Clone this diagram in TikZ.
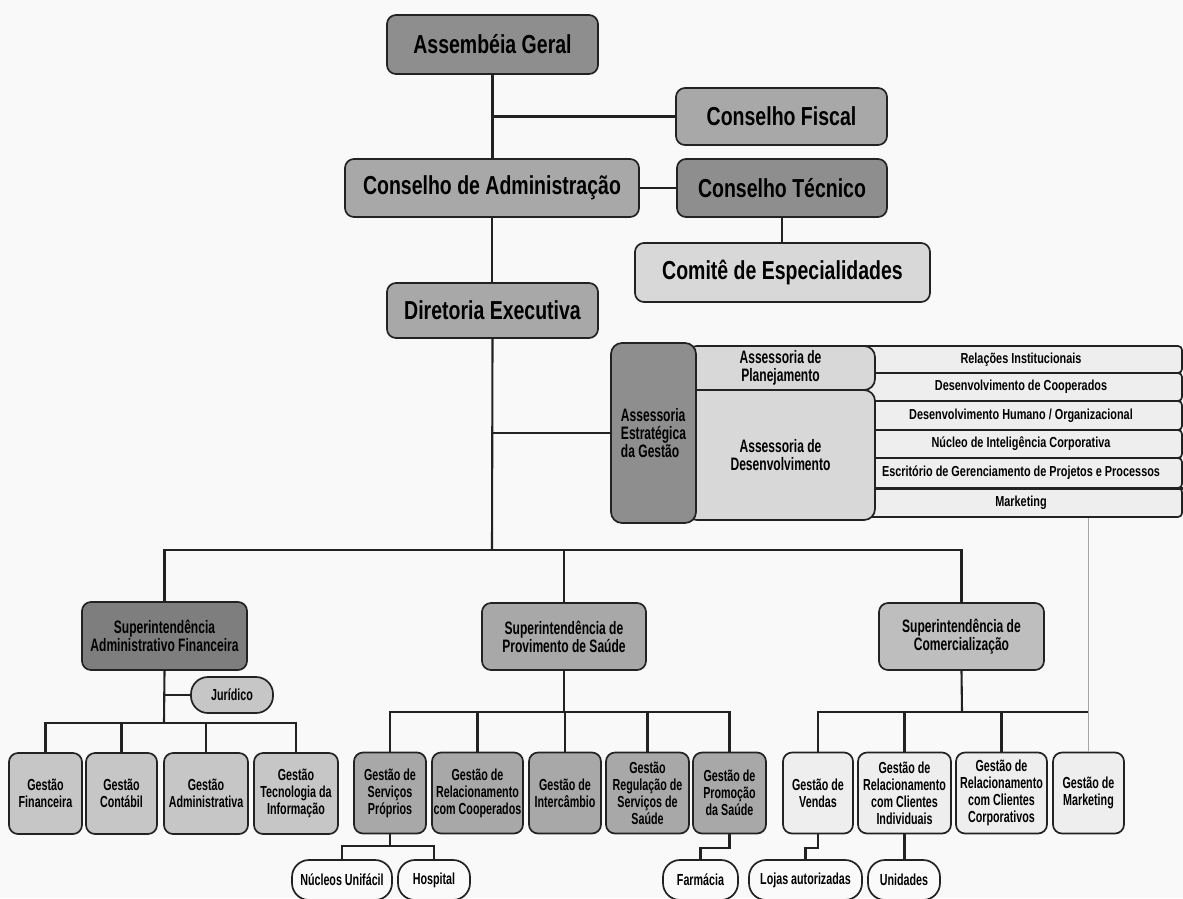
\documentclass[tikz,border=0pt]{standalone}
\usepackage{fontspec}
\setmainfont{Liberation Sans}[FakeStretch=0.75]
\newfontfamily\narrowface{Liberation Sans}[FakeStretch=0.67]
\usetikzlibrary{calc}

\definecolor{pagebg}{HTML}{F9F9F9}
\definecolor{gdark}{HTML}{8E8E8E}
\definecolor{gmid}{HTML}{A8A8A8}
\definecolor{glight}{HTML}{D8D8D8}
\definecolor{gdeep}{HTML}{7E7E7E}
\definecolor{gsoft}{HTML}{BEBEBE}
\definecolor{gleft}{HTML}{C6C6C6}
\definecolor{gpale}{HTML}{EEEEEE}
\definecolor{gwhite}{HTML}{FAFAFA}
\definecolor{edge}{HTML}{222222}

\newcommand\txtbig{\fontsize{26}{28}\selectfont\bfseries}
\newcommand\txtrow{\fontsize{14.5}{17}\selectfont\bfseries}
\newcommand\txtmid{\narrowface\fontsize{18}{18}\selectfont\bfseries}
\newcommand\txtsmall{\narrowface\fontsize{16}{17}\selectfont\bfseries}

\tikzset{
  box/.style={draw=edge, line width=1.7pt, rounded corners=9pt, inner sep=1pt,
              align=center, text=black},
  topbox/.style={box, font=\txtbig},
  midbox/.style={box, font=\txtmid},
  unitbox/.style={box, font=\txtsmall, minimum height=81pt},
  pill/.style={box, font=\txtsmall, rounded corners=17pt},
  rowbox/.style={box, font=\txtrow, rounded corners=4pt, minimum width=322pt},
  conn/.style={draw=edge, line width=2.1pt},
  softconn/.style={draw=gray!70, line width=1.6pt}
}

\begin{document}
\begin{tikzpicture}[x=1pt,y=-1pt]
\useasboundingbox (0,0) rectangle (1183,898);
\fill[pagebg] (0,0) rectangle (1183,898);

% governance boards
\node[topbox, fill=gdark, minimum width=211pt, minimum height=59pt] (ag) at (492.5,44.5) {Assembéia Geral};
\node[topbox, fill=gmid, minimum width=211pt, minimum height=57pt] (cf) at (781.5,116.5) {Conselho Fiscal};
\node[topbox, fill=gmid, minimum width=294pt, minimum height=58pt] (ca) at (492,188) {Conselho de Administração};
\node[topbox, fill=gdark, minimum width=210pt, minimum height=58pt] (ct) at (782,188) {Conselho Técnico};
\node[topbox, fill=glight, minimum width=295pt, minimum height=59pt] (ce) at (782.5,272.5) {Comitê de Especialidades};
\node[topbox, fill=gmid, minimum width=211pt, minimum height=55pt] (de) at (492.5,310.5) {Diretoria Executiva};

% advisory rows
\node[rowbox, fill=gpale, minimum height=27pt] (r1) at (1021,359.5) {Relações Institucionais};
\node[rowbox, fill=gpale, minimum height=28pt] (r2) at (1021,387) {Desenvolvimento de Cooperados};
\node[rowbox, fill=gpale, minimum height=29pt] (r3) at (1021,415.5) {Desenvolvimento Humano / Organizacional};
\node[rowbox, fill=gpale, minimum height=28pt] (r4) at (1021,444) {Núcleo de Inteligência Corporativa};
\node[rowbox, fill=gpale, minimum height=30pt] (r5) at (1021,473) {Escritório de Gerenciamento de Projetos e Processos};
\node[rowbox, fill=gpale, minimum height=29pt] (r6) at (1021,502.5) {Marketing};
\draw[edge, line width=3pt] (r5.south west) -- (r5.south east);

% advisory blocks
\node[midbox, fill=glight, minimum width=189pt, minimum height=44pt, rounded corners=11pt] (ap) at (780.5,368) {Assessoria de\\Planejamento};
\node[midbox, fill=glight, minimum width=189pt, minimum height=130pt, rounded corners=11pt] (ad) at (780.5,455) {Assessoria de\\Desenvolvimento};
\node[midbox, fill=gdark, minimum width=85pt, minimum height=180pt, rounded corners=11pt, align=left] (aeg) at (653.5,433) {Assessoria\\Estratégica\\da Gestão};

% superintendencies
\node[midbox, fill=gdeep, minimum width=165pt, minimum height=68pt] (saf) at (164.5,636) {Superintendência\\Administrativo Financeira};
\node[midbox, fill=gmid, minimum width=164pt, minimum height=67pt] (sps) at (564,636.5) {Superintendência de\\Provimento de Saúde};
\node[midbox, fill=gsoft, minimum width=165pt, minimum height=67pt] (sc) at (961.5,636.5) {Superintendência de\\Comercialização};

\node[pill, fill=gleft, minimum width=82pt, minimum height=36pt] (ju) at (232,695) {Jurídico};

% administrative and financial units
\node[unitbox, fill=gleft, minimum width=73pt] (gf) at (45.5,793.5) {Gestão\\Financeira};
\node[unitbox, fill=gleft, minimum width=71pt] (gc) at (121.5,793.5) {Gestão\\Contábil};
\node[unitbox, fill=gleft, minimum width=84pt] (ga) at (206,793.5) {Gestão\\Administrativa};
\node[unitbox, fill=gleft, minimum width=84pt] (gti) at (296,793.5) {Gestão\\Tecnologia da\\Informação};

% health provision units
\node[unitbox, fill=gmid, minimum width=72pt] (gsp) at (390,793) {Gestão de\\Serviços\\Próprios};
\node[unitbox, fill=gmid, minimum width=91pt] (grc) at (477.5,793) {Gestão de\\Relacionamento\\com Cooperados};
\node[unitbox, fill=gmid, minimum width=72pt] (gi) at (565,793) {Gestão de\\Intercâmbio};
\node[unitbox, fill=gmid, minimum width=83pt] (grs) at (647.5,793) {Gestão\\Regulação de\\Serviços de\\Saúde};
\node[unitbox, fill=gmid, minimum width=73pt] (gps) at (729.5,793) {Gestão de\\Promoção\\da Saúde};

% commercial units
\node[unitbox, fill=gpale, minimum width=70pt] (gv) at (818,793) {Gestão de\\Vendas};
\node[unitbox, fill=gpale, minimum width=93pt] (gci) at (904.5,793) {Gestão de\\Relacionamento\\com Clientes\\Individuais};
\node[unitbox, fill=gpale, minimum width=91pt] (gcc) at (1001.5,793) {Gestão de\\Relacionamento\\com Clientes\\Corporativos};
\node[unitbox, fill=gpale, minimum width=71pt] (gm) at (1088.5,793) {Gestão de\\Marketing};

% leaf units
\node[pill, fill=gwhite, minimum width=100pt, minimum height=40pt] (nu) at (342,880) {Núcleos Unifácil};
\node[pill, fill=gwhite, minimum width=72pt, minimum height=40pt] (ho) at (434,880) {Hospital};
\node[pill, fill=gwhite, minimum width=75pt, minimum height=40pt] (fa) at (700.5,880) {Farmácia};
\node[pill, fill=gwhite, minimum width=113pt, minimum height=40pt] (la) at (805.5,880) {Lojas autorizadas};
\node[pill, fill=gwhite, minimum width=72pt, minimum height=40pt] (un) at (904,880) {Unidades};

% bus points
\coordinate (bus) at (492,550);
\coordinate (busL) at (164,723);
\coordinate (busM) at (564,712);
\coordinate (busR) at (962,712);
\coordinate (spB) at (390,846);

% connectors: governance
\draw[conn] (ag.south) -- (ag.south |- ca.north);
\draw[conn] (ag.south |- cf.west) -- (cf.west);
\draw[conn] (ca.east) -- (ct.west);
\draw[conn] (ct.south) -- (ct.south |- ce.north);
\draw[conn] (ca.south) -- (ca.south |- de.north);
\draw[conn] (de.south) -- (bus);
\draw[conn] (de.south |- aeg.west) -- (aeg.west);

% connectors: superintendencies
\draw[conn] (saf.north) |- (bus) -| (sc.north);
\draw[conn] (sps.north) -- (sps.north |- bus);

% connectors: administrative branch
\draw[conn] (saf.south) -- (busL);
\draw[conn] (saf.south |- ju.west) -- (ju.west);
\draw[conn] (gf.north) |- (busL) -| (gti.north);
\draw[conn] (gc.north) -- (gc.north |- busL);
\draw[conn] (ga.north) -- (ga.north |- busL);

% connectors: health provision branch
\draw[conn] (sps.south) -- (busM);
\draw[conn] (gsp.north) |- (busM) -| (gps.north);
\draw[conn] (grc.north) -- (grc.north |- busM);
\draw[conn] (gi.north) -- (gi.north |- busM);
\draw[conn] (grs.north) -- (grs.north |- busM);
\draw[conn] (gsp.south) -- (spB);
\draw[conn] (nu.north) |- (spB) -| (ho.north);
\draw[conn] (gps.south) -- ++(0,14) -| (fa.north);

% connectors: commercial branch
\draw[conn] (sc.south) -- (busR);
\draw[conn] (gv.north) |- (gm.north |- busR);
\draw[conn] (gci.north) -- (gci.north |- busR);
\draw[conn] (gcc.north) -- (gcc.north |- busR);
\draw[softconn] (gm.north |- r6.south) -- (gm.north);
\draw[conn] (gv.south) -- ++(0,14) -| (la.north);
\draw[conn] (gci.south) -- (gci.south |- un.north);
\end{tikzpicture}
\end{document}
